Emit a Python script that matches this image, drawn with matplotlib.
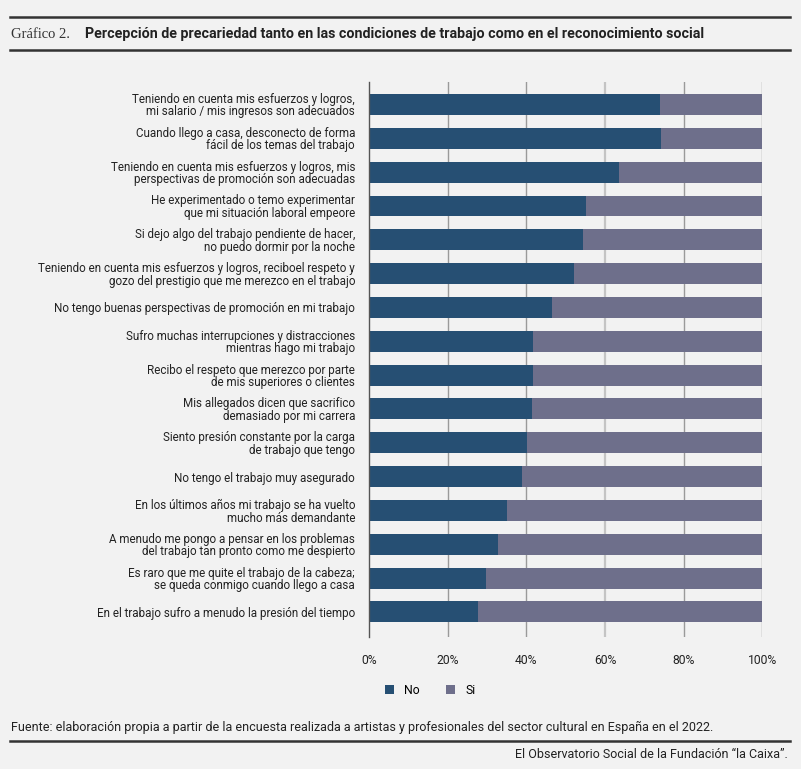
import matplotlib
matplotlib.use("Agg")
import matplotlib.pyplot as plt
from matplotlib.patches import Patch
from matplotlib.lines import Line2D

categories = [
    "Teniendo en cuenta mis esfuerzos y logros,\nmi salario / mis ingresos son adecuados",
    "Cuando llego a casa, desconecto de forma\nfácil de los temas del trabajo",
    "Teniendo en cuenta mis esfuerzos y logros, mis\nperspectivas de promoción son adecuadas",
    "He experimentado o temo experimentar\nque mi situación laboral empeore",
    "Si dejo algo del trabajo pendiente de hacer,\nno puedo dormir por la noche",
    "Teniendo en cuenta mis esfuerzos y logros, reciboel respeto y\ngozo del prestigio que me merezco en el trabajo",
    "No tengo buenas perspectivas de promoción en mi trabajo",
    "Sufro muchas interrupciones y distracciones\nmientras hago mi trabajo",
    "Recibo el respeto que merezco por parte\nde mis superiores o clientes",
    "Mis allegados dicen que sacrifico\ndemasiado por mi carrera",
    "Siento presión constante por la carga\nde trabajo que tengo",
    "No tengo el trabajo muy asegurado",
    "En los últimos años mi trabajo se ha vuelto\nmucho más demandante",
    "A menudo me pongo a pensar en los problemas\ndel trabajo tan pronto como me despierto",
    "Es raro que me quite el trabajo de la cabeza;\nse queda conmigo cuando llego a casa",
    "En el trabajo sufro a menudo la presión del tiempo",
]
no_vals = [74.0, 74.3, 63.5, 55.3, 54.3, 52.2, 46.6, 41.7, 41.7, 41.5, 40.1, 38.8, 35.0, 32.8, 29.7, 27.8]
si_vals = [100 - v for v in no_vals]
xticks = [0, 20, 40, 60, 80, 100]
xticklabels = ["0%", "20%", "40%", "60%", "80%", "100%"]
series_names = ["No", "Si"]

C_NO = "#264f73"
C_SI = "#6e6f8b"
BG = "#f2f2f2"
W, H = 801, 769

fig = plt.figure(figsize=(W / 100, H / 100), dpi=100, facecolor=BG)
ax = fig.add_axes([369 / W, 1 - 637 / H, 393.3 / W, (637 - 82) / H], facecolor=BG)

y = list(range(len(categories)))
ax.barh(y, no_vals, height=0.62, color=C_NO, zorder=2)
ax.barh(y, si_vals, left=no_vals, height=0.62, color=C_SI, zorder=2)

ax.set_xlim(0, 100)
ax.set_ylim(15.74, -0.665)
for t in xticks[1:]:
    if t == 60:
        ax.axvline(t, color="#c4c4c4", lw=1.6, zorder=1)
    else:
        ax.axvline(t, color="#9a9a9a", lw=1.0, zorder=1)

ax.set_xticks(xticks)
ax.set_xticklabels(xticklabels, fontsize=8.7, color="#222222", family="Roboto")
ax.tick_params(axis="x", length=0, pad=12)
ax.set_yticks(y)
ax.set_yticklabels(categories, fontsize=8.35, color="#222222", family="Roboto", linespacing=0.95)
ax.tick_params(axis="y", length=0, pad=10)
for s in ["top", "right", "bottom"]:
    ax.spines[s].set_visible(False)
ax.spines["left"].set_color("#555555")
ax.spines["left"].set_linewidth(1.0)

# Header
fig.add_artist(Line2D([10 / W, 790 / W], [1 - 17 / H, 1 - 17 / H], color="#333333", lw=1.8))
fig.add_artist(Line2D([10 / W, 790 / W], [1 - 50 / H, 1 - 50 / H], color="#333333", lw=1.8))
fig.text(11 / W, 1 - 34 / H, "Gráfico 2.", fontsize=10.5, family="Liberation Serif",
         color="#333333", va="center", ha="left")
title = fig.text(85 / W, 1 - 34 / H,
                 "Percepción de precariedad tanto en las condiciones de trabajo como en el reconocimiento social",
                 fontsize=10.3, family="Roboto", fontweight="bold", color="#222222",
                 va="center", ha="left")
# fit title width to the reference span
fig.canvas.draw()
wpx = title.get_window_extent().width
target = 677.0
if wpx > target:
    title.set_fontsize(10.3 * target / wpx)

# Legend
handles = [Patch(facecolor=C_NO, edgecolor="none"), Patch(facecolor=C_SI, edgecolor="none")]
fig.legend(handles, series_names, loc="center", bbox_to_anchor=(430 / W, 1 - 690 / H), ncol=2,
           frameon=False, handlelength=0.75, handleheight=0.75, columnspacing=2.2,
           handletextpad=0.8, prop={"family": "Roboto", "size": 8.8})

# Footer
fig.text(11 / W, 1 - 727 / H,
         "Fuente: elaboración propia a partir de la encuesta realizada a artistas y profesionales del sector cultural en España en el 2022.",
         fontsize=9.0, family="Roboto", color="#222222", va="center", ha="left")
fig.add_artist(Line2D([10 / W, 790 / W], [1 - 741 / H, 1 - 741 / H], color="#333333", lw=1.8))
fig.text(788 / W, 1 - 754 / H, "El Observatorio Social de la Fundación “la Caixa”.",
         fontsize=9.0, family="Roboto", color="#222222", va="center", ha="right")

fig.savefig("out.png", dpi=100, facecolor=BG)
